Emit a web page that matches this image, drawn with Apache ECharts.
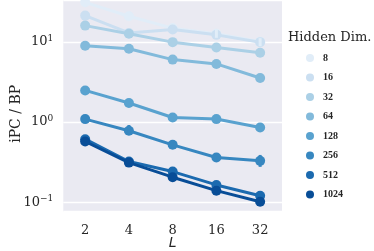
<!DOCTYPE html>
<html><head><meta charset="utf-8">
<script src="https://cdn.jsdelivr.net/npm/echarts@6/dist/echarts.min.js"></script>
<style>html,body{margin:0;padding:0;background:#fff}#c{width:374px;height:251px}</style>
</head><body><div id="c"></div>
<script>
var categories = ['2', '4', '8', '16', '32'];
var hiddenDims = ['8', '16', '32', '64', '128', '256', '512', '1024'];
var colors = ['#e1edf8', '#cbdff1', '#abd0e6', '#82badb', '#59a2cf', '#3787c0', '#1b6aaf', '#084d97'];
var d8    = [31, 20.8, 14.8, 12.6, 10.0];
var d16   = [21.2, 12.9, 14.2, 12.2, 9.9];
var d32   = [15.9, 12.6, 9.9, 8.5, 7.3];
var d64   = [8.95, 8.2, 6.0, 5.3, 3.54];
var d128  = [2.48, 1.73, 1.14, 1.09, 0.857];
var d256  = [1.09, 0.78, 0.521, 0.362, 0.329];
var d512  = [0.613, 0.323, 0.242, 0.165, 0.121];
var d1024 = [0.573, 0.313, 0.206, 0.140, 0.102];
// error bars: [seriesIndex, categoryIndex, low, high]
var errorBars = [[0, 1, 18.8, 23.2], [0, 3, 11.2, 14.5], [0, 4, 8.8, 11.1], [5, 1, 0.69, 0.92], [5, 4, 0.277, 0.39]];

var allData = [d8, d16, d32, d64, d128, d256, d512, d1024];
var chart = echarts.init(document.getElementById('c'), null, {renderer: 'canvas'});
var series = allData.map(function (d, i) {
  return {
    name: hiddenDims[i], type: 'line', data: d,
    symbol: 'circle', symbolSize: 10, showSymbol: true,
    lineStyle: {width: 3, color: colors[i]},
    itemStyle: {color: colors[i]},
    emphasis: {disabled: true}, animation: false, z: 2 + i
  };
});
series.push({
  type: 'custom', animation: false, z: 20,
  data: errorBars,
  renderItem: function (params, api) {
    var si = api.value(0), ci = api.value(1);
    var p1 = api.coord([ci, api.value(2)]);
    var p2 = api.coord([ci, api.value(3)]);
    return {type: 'line', shape: {x1: p1[0], y1: p1[1], x2: p2[0], y2: p2[1]},
      style: {stroke: colors[si], lineWidth: 3}, z2: 10 + si};
  },
  encode: {x: 1, y: 2}
});
var serif = 'DejaVu Serif';
chart.setOption({
  backgroundColor: '#ffffff',
  animation: false,
  title: {text: 'Hidden Dim.', left: 288, top: 31, padding: 0, textStyle: {fontFamily: serif, fontSize: 13, fontWeight: 'normal', color: '#262626'}},
  legend: {
    data: hiddenDims, orient: 'vertical', left: 306, top: 52, padding: 0,
    icon: 'circle', itemWidth: 8, itemHeight: 8, itemGap: 7.5,
    textStyle: {fontFamily: 'Liberation Serif', fontWeight: 'bold', fontSize: 10, lineHeight: 12, color: '#262626', padding: [0, 0, 0, 4]}
  },
  grid: {left: 63.3, right: 92, top: 0, bottom: 39.3, containLabel: false, outerBoundsMode: 'none', show: true, backgroundColor: '#eaeaf2', borderWidth: 0},
  xAxis: {
    type: 'category', data: categories, boundaryGap: true,
    axisLine: {show: false}, axisTick: {show: false}, splitLine: {show: false},
    axisLabel: {fontFamily: serif, fontSize: 13, color: '#262626', margin: 12},
    name: 'L', nameLocation: 'middle', nameGap: 25, nameMoveOverlap: false,
    nameTextStyle: {fontFamily: 'DejaVu Sans', fontStyle: 'italic', fontSize: 14, color: '#262626'}
  },
  yAxis: {
    type: 'log', logBase: 10, min: 0.0766, max: 33.15,
    axisLine: {show: false}, axisTick: {show: false},
    splitLine: {show: true, lineStyle: {color: '#ffffff', width: 1.3}},
    axisLabel: {
      showMinLabel: false, showMaxLabel: false, margin: 10,
      formatter: function (v) {
        var e = Math.round(Math.log10(v));
        return '{b|10}{s|' + (e < 0 ? '\u2212' + (-e) : e) + '}';
      },
      rich: {
        b: {fontFamily: serif, fontSize: 13, color: '#262626'},
        s: {fontFamily: serif, fontSize: 9, color: '#262626', padding: [0, 0, 7, 0]}
      }
    },
    name: 'iPC / BP', nameLocation: 'middle', nameGap: 40, nameMoveOverlap: false,
    nameTextStyle: {fontFamily: serif, fontSize: 14, color: '#262626', padding: [0, 16, 0, 0]}
  },
  series: series
});
</script></body></html>
